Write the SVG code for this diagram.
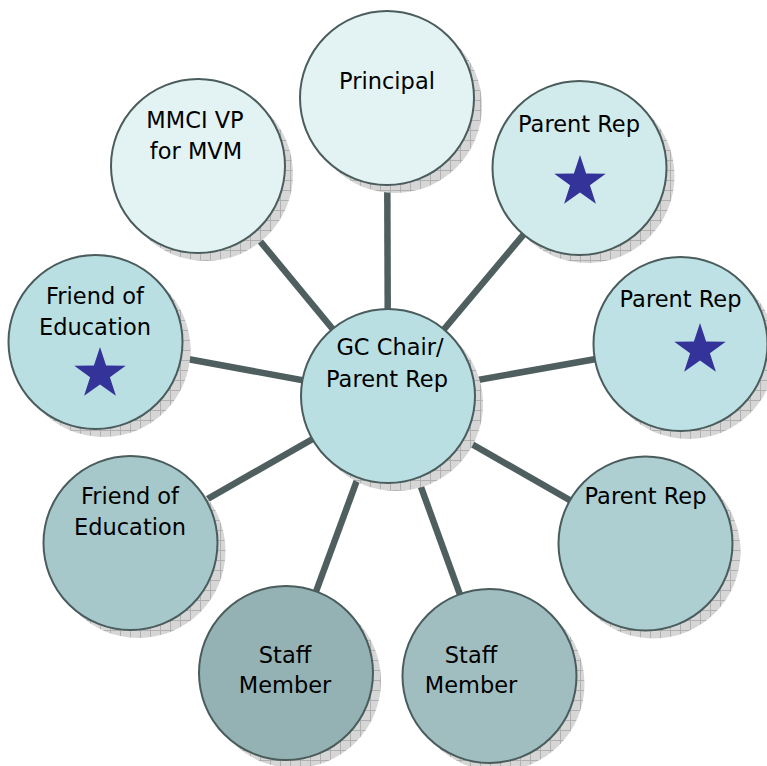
<svg xmlns="http://www.w3.org/2000/svg" width="767" height="766" viewBox="0 0 767 766">
<defs>
<pattern id="grid" patternUnits="userSpaceOnUse" width="10" height="10">
<rect width="10" height="10" fill="#d6d6d6"/>
<path d="M0 0.5H10M0.5 0V10" stroke="#b0b0b0" stroke-width="1"/>
</pattern>
<path id="star" d="M0,-27 L6.1,-8.4 L25.7,-8.3 L9.9,3.2 L15.9,21.8 L0,10.4 L-15.9,21.8 L-9.9,3.2 L-25.7,-8.3 L-6.1,-8.4 Z"/>
</defs>
<style>
.shadow{fill:url(#grid);}
.node{stroke:#4a5c5c;stroke-width:2;}
.conn{stroke:#4f5f5f;stroke-width:6.5;stroke-linecap:butt;}
.lbl{font-family:"DejaVu Sans","Liberation Sans",sans-serif;font-size:22.5px;fill:#000;text-anchor:middle;}
.star{fill:#333399;}
</style>
<rect width="767" height="766" fill="#ffffff"/>
<g id="connectors">
<line class="conn" x1="388" y1="396" x2="387" y2="98"/>
<line class="conn" x1="388" y1="396" x2="198" y2="166"/>
<line class="conn" x1="388" y1="396" x2="579.5" y2="168"/>
<line class="conn" x1="388" y1="396" x2="680.5" y2="344"/>
<line class="conn" x1="388" y1="396" x2="95.5" y2="342"/>
<line class="conn" x1="388" y1="396" x2="645.5" y2="543.5"/>
<line class="conn" x1="388" y1="396" x2="130.5" y2="543"/>
<line class="conn" x1="388" y1="396" x2="286" y2="673"/>
<line class="conn" x1="388" y1="396" x2="489.5" y2="676"/>
</g>
<g id="principal">
<circle class="shadow" cx="395" cy="106" r="87"/>
<circle class="node" cx="387" cy="98" r="87" fill="#e3f3f4"/>
<text class="lbl" x="387" y="89">Principal</text>
</g>
<g id="mmci-vp">
<circle class="shadow" cx="206" cy="174" r="87"/>
<circle class="node" cx="198" cy="166" r="87" fill="#e3f3f4"/>
<text class="lbl" x="195" y="128">MMCI VP</text>
<text class="lbl" x="196" y="159">for MVM</text>
</g>
<g id="parent-rep-1">
<circle class="shadow" cx="587.5" cy="176" r="87"/>
<circle class="node" cx="579.5" cy="168" r="87" fill="#d1eaec"/>
<text class="lbl" x="579" y="132">Parent Rep</text>
<use class="star" href="#star" x="580" y="182"/>
</g>
<g id="parent-rep-2">
<circle class="shadow" cx="688.5" cy="352" r="87"/>
<circle class="node" cx="680.5" cy="344" r="87" fill="#bde1e4"/>
<text class="lbl" x="680.5" y="307">Parent Rep</text>
<use class="star" href="#star" x="700" y="350"/>
</g>
<g id="friend-1">
<circle class="shadow" cx="103.5" cy="350" r="87"/>
<circle class="node" cx="95.5" cy="342" r="87" fill="#b9dfe3"/>
<text class="lbl" x="95" y="304">Friend of</text>
<text class="lbl" x="95" y="335">Education</text>
<use class="star" href="#star" x="100" y="374"/>
</g>
<g id="gc-chair">
<circle class="shadow" cx="396" cy="404" r="87"/>
<circle class="node" cx="388" cy="396" r="87" fill="#b9dfe3"/>
<text class="lbl" x="390" y="355">GC Chair/</text>
<text class="lbl" x="387" y="387">Parent Rep</text>
</g>
<g id="parent-rep-3">
<circle class="shadow" cx="653.5" cy="551.5" r="87"/>
<circle class="node" cx="645.5" cy="543.5" r="87" fill="#adcfd2"/>
<text class="lbl" x="645.5" y="504">Parent Rep</text>
</g>
<g id="friend-2">
<circle class="shadow" cx="138.5" cy="551" r="87"/>
<circle class="node" cx="130.5" cy="543" r="87" fill="#a7c8ca"/>
<text class="lbl" x="130" y="504">Friend of</text>
<text class="lbl" x="130" y="535">Education</text>
</g>
<g id="staff-1">
<circle class="shadow" cx="294" cy="681" r="87"/>
<circle class="node" cx="286" cy="673" r="87" fill="#94b2b3"/>
<text class="lbl" x="285" y="663">Staff</text>
<text class="lbl" x="285" y="693">Member</text>
</g>
<g id="staff-2">
<circle class="shadow" cx="497.5" cy="684" r="87"/>
<circle class="node" cx="489.5" cy="676" r="87" fill="#a0bec0"/>
<text class="lbl" x="471" y="663">Staff</text>
<text class="lbl" x="471" y="693">Member</text>
</g>
</svg>
